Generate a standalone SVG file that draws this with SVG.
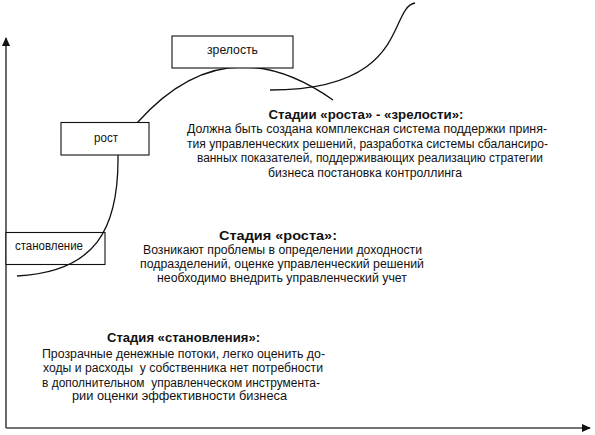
<svg xmlns="http://www.w3.org/2000/svg" width="595" height="435" viewBox="0 0 595 435">
<style>
text{font-family:"Liberation Sans",Arial,sans-serif;fill:#111}
.t{font-size:12.5px;text-anchor:middle}
.b{font-weight:bold}
.box{fill:#fff;stroke:#111;stroke-width:1.1}
.lbl{font-size:12px;text-anchor:middle}
.ax{stroke:#444;stroke-width:1.6;fill:none}
.cv{stroke:#111;stroke-width:1.3;fill:none}
</style>
<defs>
<marker id="ah" markerWidth="10" markerHeight="10" refX="8" refY="4" orient="auto" markerUnits="userSpaceOnUse">
<path d="M0,0 L9,4 L0,8 Z" fill="#111"/>
</marker>
</defs>
<rect width="595" height="435" fill="#fff"/>
<g id="axes">
<line class="ax" x1="6" y1="428" x2="6" y2="38" marker-end="url(#ah)"/>
<line class="ax" x1="6" y1="428" x2="590" y2="428" marker-end="url(#ah)"/>
</g>
<g id="node-stanovlenie">
<rect class="box" x="6" y="232.5" width="99" height="32"/>
<text class="lbl" x="49" y="249.5" textLength="68" lengthAdjust="spacingAndGlyphs">становление</text>
</g>
<g id="connectors">
<path class="cv" d="M17,276 C95,272 119,230 118,155 L137,123 Q225,24 333,100"/>
<path class="cv" d="M270,90 C410,90 388,8 415,3"/>
</g>
<g id="node-rost">
<rect class="box" x="61" y="122.5" width="88" height="32.5"/>
<text class="lbl" x="106" y="141.5" textLength="24" lengthAdjust="spacingAndGlyphs">рост</text>
</g>
<g id="node-zrelost">
<rect class="box" x="172" y="36" width="121" height="32"/>
<text class="lbl" x="232.5" y="54" textLength="51" lengthAdjust="spacingAndGlyphs">зрелость</text>
</g>
<g id="text-rost-zrelost">
<text class="t b" x="366" y="118.5" textLength="195" lengthAdjust="spacingAndGlyphs">Стадии «роста» - «зрелости»:</text>
<text class="t" x="367" y="133" textLength="360" lengthAdjust="spacingAndGlyphs">Должна быть создана комплексная система поддержки приня-</text>
<text class="t" x="367.5" y="147.5" textLength="361" lengthAdjust="spacingAndGlyphs">тия управленческих решений, разработка системы сбалансиро-</text>
<text class="t" x="370" y="162" textLength="346" lengthAdjust="spacingAndGlyphs">ванных показателей, поддерживающих реализацию стратегии</text>
<text class="t" x="365" y="176.5" textLength="194" lengthAdjust="spacingAndGlyphs">бизнеса постановка контроллинга</text>
</g>
<g id="text-rost">
<text class="t b" x="278" y="239.5" textLength="118" lengthAdjust="spacingAndGlyphs">Стадия «роста»:</text>
<text class="t" x="282.5" y="254" textLength="279" lengthAdjust="spacingAndGlyphs">Возникают проблемы в определении доходности</text>
<text class="t" x="282" y="268" textLength="284" lengthAdjust="spacingAndGlyphs">подразделений, оценке управленческий решений</text>
<text class="t" x="282" y="282" textLength="250" lengthAdjust="spacingAndGlyphs">необходимо внедрить управленческий учет</text>
</g>
<g id="text-stanovlenie">
<text class="t b" x="183.5" y="341.5" textLength="153" lengthAdjust="spacingAndGlyphs">Стадия «становления»:</text>
<text class="t" x="183.5" y="357.5" textLength="283" lengthAdjust="spacingAndGlyphs">Прозрачные денежные потоки, легко оценить до-</text>
<text class="t" x="183" y="372" textLength="280" lengthAdjust="spacingAndGlyphs" xml:space="preserve">ходы и расходы  у собственника нет потребности</text>
<text class="t" x="181" y="386.5" textLength="278" lengthAdjust="spacingAndGlyphs" xml:space="preserve">в дополнительном  управленческом инструмента-</text>
<text class="t" x="179.5" y="400" textLength="215" lengthAdjust="spacingAndGlyphs">рии оценки эффективности бизнеса</text>
</g>
</svg>
